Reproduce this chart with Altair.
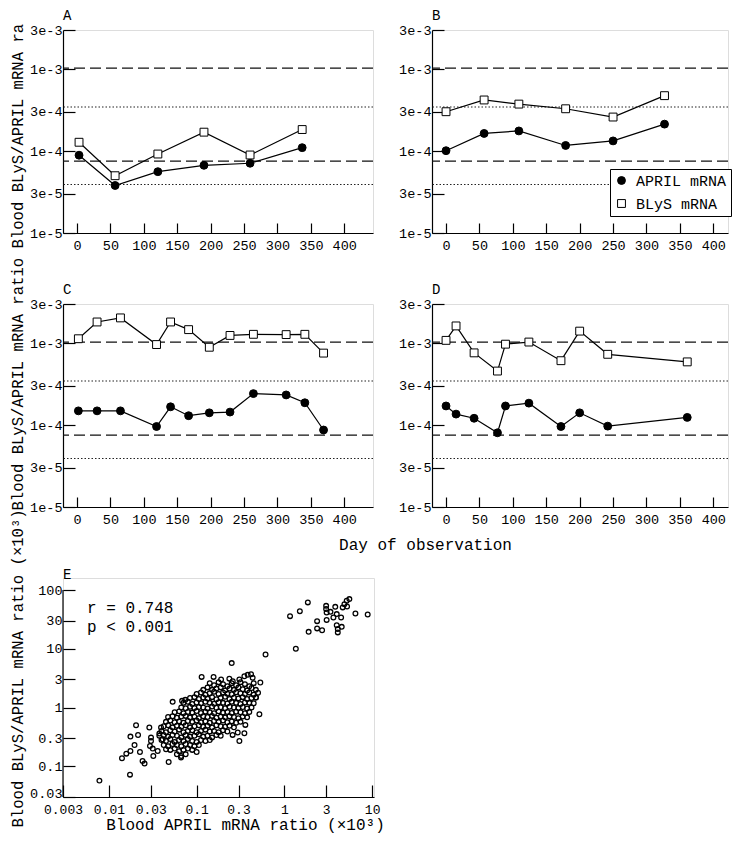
import altair as alt
import pandas as pd

FONT = "Liberation Mono"
SERIES = ["APRIL mRNA", "BLyS mRNA"]

DAY_TICKS = [0, 50, 100, 150, 200, 250, 300, 350, 400]
RATIO_TICKS = [1e-5, 3e-5, 1e-4, 3e-4, 1e-3, 3e-3]
E_X_TICKS = [0.003, 0.01, 0.03, 0.1, 0.3, 1, 3, 10]
E_Y_TICKS = [0.03, 0.1, 0.3, 1, 3, 10, 30, 100]

DASHED_REF = [1.03e-3, 7.55e-5]
DOTTED_REF = [3.45e-4, 3.9e-5]

# Panel A
A_DAYS = [3, 57, 121, 190, 259, 337]
A_APRIL = [8.9e-5, 3.8e-5, 5.6e-5, 6.7e-5, 7.1e-5, 1.1e-4]
A_BLYS = [1.28e-4, 5.0e-5, 9.2e-5, 1.7e-4, 8.95e-5, 1.83e-4]
# Panel B
B_DAYS = [0, 57, 109, 179, 250, 327]
B_APRIL = [1.01e-4, 1.64e-4, 1.76e-4, 1.17e-4, 1.33e-4, 2.13e-4]
B_BLYS = [3.02e-4, 4.2e-4, 3.74e-4, 3.28e-4, 2.6e-4, 4.74e-4]
# Panel C
C_DAYS = [2, 30, 65, 119, 140, 167, 198, 229, 264, 313, 341, 369]
C_APRIL = [1.49e-4, 1.49e-4, 1.49e-4, 9.6e-5, 1.67e-4, 1.30e-4, 1.41e-4, 1.44e-4,
           2.42e-4, 2.33e-4, 1.87e-4, 8.7e-5]
C_BLYS = [1.13e-3, 1.81e-3, 2.03e-3, 9.6e-4, 1.81e-3, 1.46e-3, 8.9e-4, 1.24e-3,
          1.28e-3, 1.27e-3, 1.28e-3, 7.55e-4]
# Panel D
D_DAYS = [0, 15, 42, 77, 89, 124, 172, 200, 242, 361]
D_APRIL = [1.71e-4, 1.36e-4, 1.21e-4, 8.05e-5, 1.71e-4, 1.85e-4, 9.6e-5, 1.41e-4, 9.7e-5, 1.24e-4]
D_BLYS = [1.08e-3, 1.62e-3, 7.6e-4, 4.56e-4, 9.7e-4, 1.03e-3, 6.1e-4, 1.40e-3, 7.3e-4, 5.9e-4]

# Panel E: dense core, read row by row (APRIL ratio x, BLyS/APRIL ratio y)
E_CORE_X = [
    [0.19, 0.236, 0.258, 0.307, 0.35, 0.435],
    [0.141, 0.158, 0.178, 0.2, 0.224, 0.251, 0.282, 0.316, 0.355, 0.398, 0.447],
    [0.119, 0.133, 0.150, 0.168, 0.188, 0.211, 0.237, 0.266, 0.299, 0.335, 0.376, 0.422, 0.473],
    [0.1, 0.112, 0.126, 0.141, 0.158, 0.178, 0.2, 0.224, 0.251, 0.282, 0.316, 0.355, 0.398, 0.447, 0.501],
    [0.0841, 0.0944, 0.106, 0.119, 0.133, 0.150, 0.168, 0.188, 0.211, 0.237, 0.266, 0.299, 0.335, 0.376, 0.422, 0.473],
    [0.0708, 0.0794, 0.0891, 0.1, 0.112, 0.126, 0.141, 0.158, 0.178, 0.2, 0.224, 0.251, 0.282, 0.316, 0.355, 0.398, 0.447],
    [0.0668, 0.075, 0.0841, 0.0944, 0.106, 0.119, 0.133, 0.150, 0.168, 0.188, 0.211, 0.237, 0.266, 0.299, 0.335, 0.376, 0.422],
    [0.0562, 0.0631, 0.0708, 0.0794, 0.0891, 0.1, 0.112, 0.126, 0.141, 0.158, 0.178, 0.2, 0.224, 0.251, 0.282, 0.316, 0.355, 0.398],
    [0.0473, 0.0531, 0.0596, 0.0668, 0.075, 0.0841, 0.0944, 0.106, 0.119, 0.133, 0.150, 0.168, 0.188, 0.211, 0.237, 0.266, 0.299, 0.335, 0.376],
    [0.0447, 0.0501, 0.0562, 0.0631, 0.0708, 0.0794, 0.0891, 0.1, 0.112, 0.126, 0.141, 0.158, 0.178, 0.2, 0.224, 0.251, 0.282, 0.316],
    [0.0422, 0.0473, 0.0531, 0.0596, 0.0668, 0.075, 0.0841, 0.0944, 0.106, 0.119, 0.133, 0.150, 0.168, 0.188, 0.211, 0.237, 0.266],
    [0.0398, 0.0447, 0.0501, 0.0562, 0.0631, 0.0708, 0.0794, 0.0891, 0.1, 0.112, 0.126, 0.141, 0.158, 0.178, 0.2, 0.224],
    [0.0376, 0.0422, 0.0473, 0.0531, 0.0596, 0.0668, 0.075, 0.0841, 0.0944, 0.106, 0.119, 0.133, 0.150, 0.168, 0.188],
    [0.0398, 0.0447, 0.0501, 0.0562, 0.0631, 0.0708, 0.0794, 0.0891, 0.1, 0.112, 0.126, 0.141],
    [0.0422, 0.0473, 0.0531, 0.0596, 0.0668, 0.075, 0.0841, 0.0944, 0.106],
    [0.0501, 0.0562, 0.0631, 0.0708, 0.0794, 0.0891],
    [0.0596, 0.0668, 0.075],
]
E_CORE_Y = [
    [3.0, 3.1, 2.8, 3.0, 3.4, 3.2],
    [2.6, 2.4, 2.7, 2.5, 2.3, 2.6, 2.4, 2.7, 2.5, 2.3, 2.6],
    [2.0, 2.2, 2.0, 2.1, 2.2, 1.95, 2.1, 2.0, 2.2, 2.05, 1.95, 2.15, 2.0],
    [1.7, 1.8, 1.65, 1.75, 1.85, 1.7, 1.8, 1.72, 1.68, 1.82, 1.75, 1.7, 1.8, 1.65, 1.78],
    [1.45, 1.5, 1.4, 1.48, 1.42, 1.5, 1.38, 1.46, 1.52, 1.4, 1.47, 1.43, 1.5, 1.4, 1.45, 1.48],
    [1.2, 1.25, 1.15, 1.22, 1.18, 1.25, 1.2, 1.16, 1.23, 1.2, 1.17, 1.25, 1.2, 1.15, 1.22, 1.2, 1.18],
    [1.0, 0.97, 1.03, 0.98, 1.02, 1.0, 0.96, 1.04, 0.99, 1.01, 0.97, 1.03, 1.0, 0.98, 1.02, 0.96, 1.0],
    [0.83, 0.86, 0.8, 0.84, 0.82, 0.87, 0.81, 0.85, 0.83, 0.8, 0.86, 0.82, 0.84, 0.81, 0.85, 0.83, 0.8, 0.84],
    [0.69, 0.71, 0.67, 0.7, 0.72, 0.68, 0.7, 0.66, 0.71, 0.69, 0.72, 0.67, 0.7, 0.68, 0.71, 0.69, 0.66, 0.7, 0.68],
    [0.57, 0.6, 0.56, 0.58, 0.55, 0.59, 0.57, 0.6, 0.56, 0.58, 0.55, 0.59, 0.57, 0.6, 0.56, 0.58, 0.55, 0.57],
    [0.48, 0.5, 0.46, 0.49, 0.47, 0.5, 0.46, 0.48, 0.5, 0.47, 0.49, 0.46, 0.5, 0.48, 0.47, 0.49, 0.46],
    [0.4, 0.38, 0.41, 0.39, 0.42, 0.38, 0.4, 0.41, 0.38, 0.4, 0.42, 0.39, 0.4, 0.38, 0.41, 0.39],
    [0.33, 0.34, 0.32, 0.34, 0.33, 0.31, 0.34, 0.32, 0.33, 0.35, 0.32, 0.33, 0.31, 0.34, 0.33],
    [0.28, 0.27, 0.29, 0.26, 0.28, 0.27, 0.29, 0.27, 0.26, 0.28, 0.27, 0.28],
    [0.23, 0.22, 0.24, 0.23, 0.22, 0.24, 0.23, 0.22, 0.23],
    [0.19, 0.2, 0.18, 0.19, 0.2, 0.19],
    [0.16, 0.15, 0.16],
]
# Panel E: scattered points around the core
E_OUT_X = [0.0078, 0.0174, 0.0141, 0.0158, 0.0176, 0.0176, 0.0196, 0.0204, 0.0215, 0.0226,
           0.0242, 0.0255, 0.0289, 0.0302, 0.0302, 0.0294, 0.0316, 0.0321, 0.036, 0.0393,
           0.0376, 0.041, 0.048, 0.0448, 0.0533, 0.0664, 0.0682, 0.0743, 0.1, 0.114,
           0.156, 0.251, 0.35, 0.294, 0.257, 0.307, 0.359, 0.519, 0.532, 0.475,
           0.417, 0.382, 0.61]
E_OUT_Y = [0.057, 0.072, 0.137, 0.164, 0.182, 0.32, 0.23, 0.5, 0.34, 0.175,
           0.123, 0.111, 0.456, 0.308, 0.27, 0.222, 0.2, 0.15, 0.182, 0.456,
           0.36, 0.288, 0.118, 0.195, 1.25, 0.141, 1.3, 1.35, 0.175, 3.32,
           3.32, 5.7, 0.365, 0.375, 0.342, 0.27, 0.506, 0.769, 2.67, 1.48,
           3.69, 3.6, 8.0]
# Panel E: high group
E_HIGH_X = [1.16, 1.5, 1.85, 1.89, 2.36, 2.36, 2.69, 2.99, 2.99, 3.03, 3.03, 3.35, 3.8, 3.62,
            3.95, 4.43, 3.95, 4.06, 4.06, 4.5, 4.62, 4.83, 5.13, 5.5, 5.18, 6.45, 8.9, 1.35]
E_HIGH_Y = [35.9, 43.7, 61.5, 19.4, 29.5, 22.2, 20.7, 53.8, 47.3, 41.5, 31, 42.5, 51.7, 34.1,
            38.9, 34.1, 25.2, 21.6, 19, 23.6, 50.6, 57.5, 65.5, 70, 52.5, 39.9, 38.4, 10]

W, H = 310, 203
W_RIGHT = 296
EW, EH = 311, 219          # E cell is taller; its y axis line stops at 100
E_Y_DOMAIN = [0.03, 160.1]
E_AXIS_LINE = pd.DataFrame({"x": [0.003], "y": [0.03], "y2": [100]})

TXT = dict(labelFont=FONT, labelFontSize=13.5, labelColor="black", labelFlush=False,
           labelOverlap=False, grid=False, domainColor="black", domainWidth=1.2,
           tickColor="black", tickWidth=1.2, titleFont=FONT, titleFontSize=16,
           titleFontWeight="normal", titleColor="black")


def x_day(xmax, title=None, extra=None):
    kw = dict(TXT)
    kw.update(values=DAY_TICKS, tickSize={"expr": "-10"}, labelPadding=15, labelAngle=0)
    if extra:
        kw.update(extra)
    return alt.X("day:Q", scale=alt.Scale(domain=[-21, xmax], nice=False, zero=False),
                 axis=alt.Axis(title=title, **kw))


def y_ratio(title=None, extra=None):
    kw = dict(TXT)
    kw.update(values=RATIO_TICKS, labelExpr="format(datum.value, '.0e')",
              tickSize={"expr": "-12"}, labelPadding=13)
    if extra:
        kw.update(extra)
    return alt.Y("value:Q", scale=alt.Scale(type="log", domain=[1e-5, 3e-3], nice=False),
                 axis=alt.Axis(title=title, **kw))


def letter_layer(letter, ypos=-10):
    return alt.Chart(pd.DataFrame({"t": [letter]})).mark_text(
        align="left", baseline="alphabetic", font=FONT, fontSize=14, color="black"
    ).encode(text="t:N", x=alt.value(0), y=alt.value(ypos))


def time_panel(days, april, blys, letter, width, xmax, legend=None, x_title=None,
               x_extra=None, y_title=None, y_extra=None):
    n = len(days)
    df = pd.DataFrame({"day": days + days, "value": april + blys,
                       "series": [SERIES[0]] * n + [SERIES[1]] * n})
    x = x_day(xmax, x_title, x_extra)
    y = y_ratio(y_title, y_extra)
    dashed = alt.Chart(pd.DataFrame({"value": DASHED_REF})).mark_rule(
        strokeDash=[11, 5], color="#111", strokeWidth=1.2).encode(y=y)
    dotted = alt.Chart(pd.DataFrame({"value": DOTTED_REF})).mark_rule(
        strokeDash=[1.5, 2], color="#222", strokeWidth=1.1).encode(y=y)
    line = alt.Chart(df).mark_line(color="black", strokeWidth=1.2).encode(
        x=x, y=y, detail="series:N")
    pts = alt.Chart(df).mark_point(filled=True, strokeWidth=1, opacity=1, size=62).encode(
        x=x, y=y,
        shape=alt.Shape("series:N", scale=alt.Scale(domain=SERIES, range=["circle", "square"]),
                        legend=legend),
        fill=alt.Fill("series:N", scale=alt.Scale(domain=SERIES, range=["black", "white"]),
                      legend=legend),
        stroke=alt.Stroke("series:N", scale=alt.Scale(domain=SERIES, range=["black", "black"]),
                          legend=legend),
    )
    return alt.layer(dashed, dotted, line, pts, letter_layer(letter)).properties(
        width=width, height=H)


legend_b = alt.Legend(orient="none", legendX=178, legendY=139, title=None, labelFont=FONT,
                      labelFontSize=15, labelColor="black", symbolSize=62,
                      symbolStrokeWidth=1, strokeColor="black",
                      fillColor="white", padding=4, rowPadding=7, labelOffset=7)

pA = time_panel(A_DAYS, A_APRIL, A_BLYS, "A", W, 443)
pB = time_panel(B_DAYS, B_APRIL, B_BLYS, "B", W_RIGHT, 422, legend=legend_b)
pC = time_panel(C_DAYS, C_APRIL, C_BLYS, "C", W, 443,
                y_title="Blood BLyS/APRIL mRNA ratio Blood BLyS/APRIL mRNA ra",
                y_extra=dict(titleAngle=270, titleAlign="left", titleBaseline="alphabetic",
                             titleX=-41, titleY=206, titleFontSize=15.6))
pD = time_panel(D_DAYS, D_APRIL, D_BLYS, "D", W_RIGHT, 422, x_title="Day of observation",
                x_extra=dict(titleX=-7, titleY=42, titleAlign="center",
                             titleBaseline="alphabetic", titleAngle=0))

# Panel E
ex_all = [v for row in E_CORE_X for v in row] + E_OUT_X + E_HIGH_X
ey_all = [v for row in E_CORE_Y for v in row] + E_OUT_Y + E_HIGH_Y
e_df = pd.DataFrame({"april": ex_all, "ratio": ey_all})

ekw_x = dict(TXT)
ekw_x.update(values=E_X_TICKS, labelExpr="format(datum.value, '~g')", tickSize={"expr": "-12"},
             labelPadding=18, labelAngle=0, labelFontSize=13, titleX=182, titleY=32,
             titleAlign="center", titleBaseline="alphabetic", titleAngle=0)
ekw_y = dict(TXT)
ekw_y.update(values=E_Y_TICKS, labelExpr="format(datum.value, '~g')", tickSize={"expr": "-12"},
             labelPadding=13, labelFontSize=13.5, titleAngle=270, titleAlign="left",
             titleBaseline="alphabetic", titleX=-41, titleY=249, titleFontSize=15.6,
             domain=False,
             labelOffset={"condition": {"test": "datum.value < 0.05", "value": -4}, "value": 0})
e_xscale = alt.Scale(type="log", domain=[0.003, 10.5], nice=False)
e_yscale = alt.Scale(type="log", domain=E_Y_DOMAIN, nice=False)
ex = alt.X("april:Q", scale=e_xscale, axis=alt.Axis(title="Blood APRIL mRNA ratio (×10³)", **ekw_x))
ey = alt.Y("ratio:Q", scale=e_yscale,
           axis=alt.Axis(title="Blood BLyS/APRIL mRNA ratio (×10³)", **ekw_y))

e_pts = alt.Chart(e_df).mark_point(filled=False, color="black", size=22, strokeWidth=1.3,
                                   opacity=1).encode(x=ex, y=ey)
e_axis_line = alt.Chart(E_AXIS_LINE).mark_rule(color="black", strokeWidth=1.2).encode(
    x=alt.X("x:Q", scale=e_xscale), y=alt.Y("y:Q", scale=e_yscale), y2="y2:Q")
r_txt = alt.Chart(pd.DataFrame({"t": ["r = 0.748"]})).mark_text(
    align="left", baseline="alphabetic", font=FONT, fontSize=16, color="black"
).encode(text="t:N", x=alt.value(24), y=alt.value(35))
p_txt = alt.Chart(pd.DataFrame({"t": ["p < 0.001"]})).mark_text(
    align="left", baseline="alphabetic", font=FONT, fontSize=16, color="black"
).encode(text="t:N", x=alt.value(24), y=alt.value(54))
pE = alt.layer(e_pts, e_axis_line, r_txt, p_txt, letter_layer("E", 1)).properties(
    width=EW, height=EH)

chart = alt.concat(pA, pB, pC, pD, pE, columns=2, spacing={"row": 71, "column": 58},
                   bounds="flush").resolve_scale(
    fill="independent", shape="independent", stroke="independent"
).resolve_legend(
    fill="independent", shape="independent", stroke="independent"
).properties(
    padding={"left": 1, "top": 0, "right": 0, "bottom": 0}
).configure_view(stroke=None).configure(background="white")

chart.save("out.html", embed_options={"renderer": "svg", "actions": False})
